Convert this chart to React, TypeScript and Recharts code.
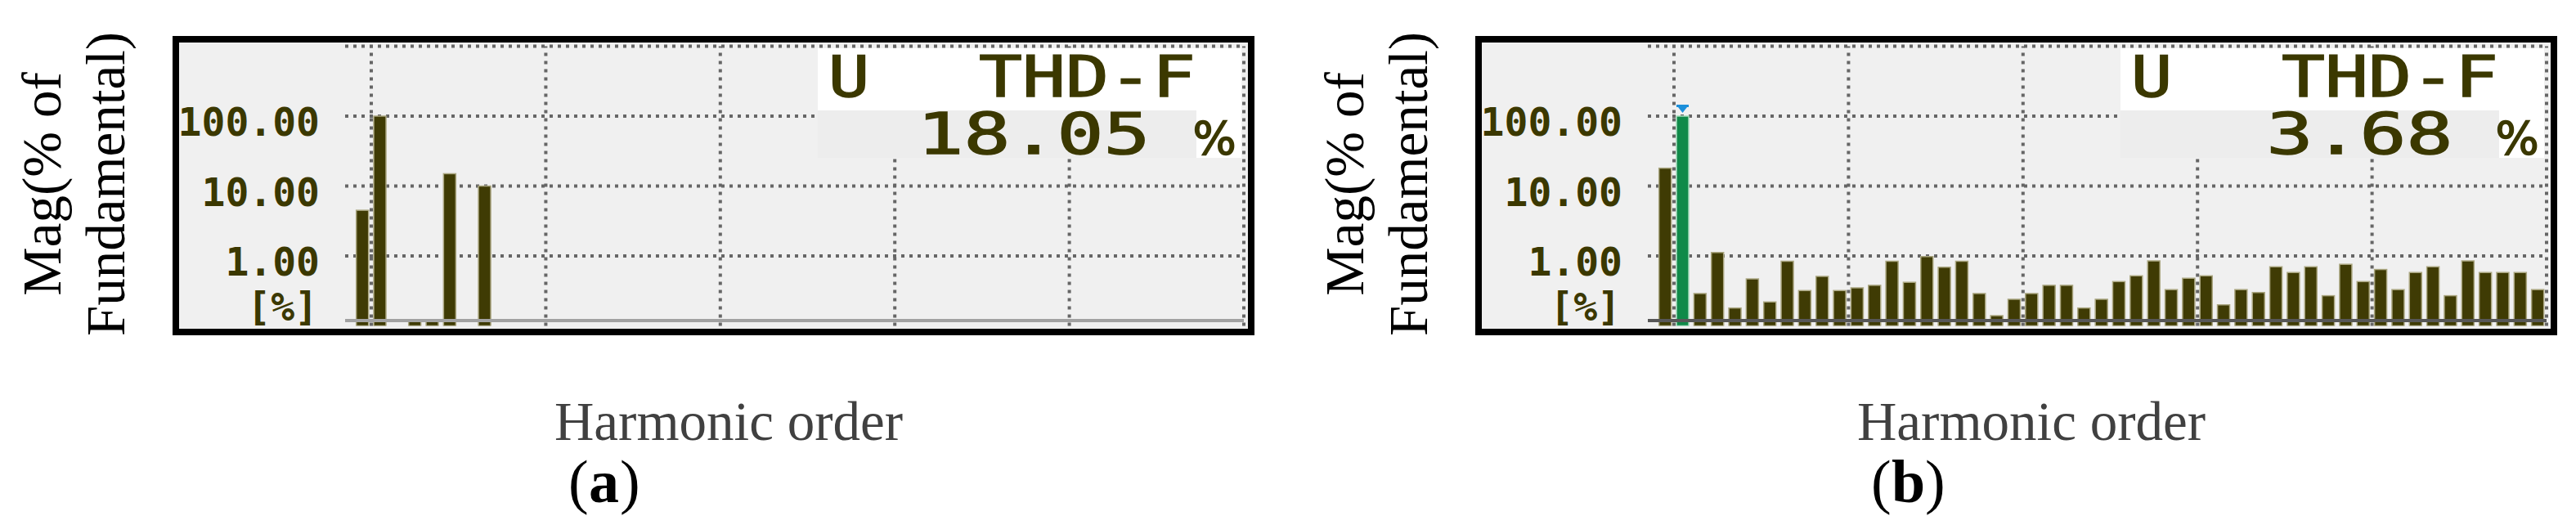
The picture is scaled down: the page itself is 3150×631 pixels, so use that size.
import { BarChart, Bar, XAxis, YAxis, CartesianGrid, ReferenceLine } from "recharts"

// harmonic spectra (% of fundamental, log axis)
const harmonicOrdersA = [0, 1, 3, 4, 5, 7]
const magnitudesA = [4.5, 100, 0.12, 0.12, 15, 10]

const harmonicOrdersB = [
  0, 1, 2, 3, 4, 5, 6, 7, 8, 9, 10, 11, 12, 13, 14, 15, 16, 17, 18, 19, 20, 21, 22, 23, 24, 25,
  26, 27, 28, 29, 30, 31, 32, 33, 34, 35, 36, 37, 38, 39, 40, 41, 42, 43, 44, 45, 46, 47, 48, 49, 50,
]
const magnitudesB = [
  18, 100, 0.29, 1.12, 0.18, 0.47, 0.22, 0.84, 0.32, 0.51, 0.32, 0.35, 0.38, 0.84, 0.42, 0.98, 0.69,
  0.84, 0.29, 0.14, 0.24, 0.29, 0.38, 0.38, 0.18, 0.24, 0.43, 0.52, 0.85, 0.33, 0.48, 0.52, 0.2, 0.33,
  0.3, 0.7, 0.58, 0.7, 0.27, 0.76, 0.43, 0.64, 0.33, 0.58, 0.7, 0.27, 0.85, 0.58, 0.58, 0.58, 0.33,
]
const selectedOrderB = 1

const thdA = "18.05"
const thdB = "3.68"

const yTicks = [1, 10, 100, 1000]
const yTickLabels = ["1.00", "10.00", "100.00", ""]
const gridOrders = [0.5, 10.5, 20.5, 30.5, 40.5, 50.5]

const OLIVE = "#3b3800"
const GRID = "#666666"
const BOX_W = 1323
const CHART_H = 410

const MagTick = ({ y, payload }: any) => {
  const label = yTickLabels[yTicks.indexOf(payload.value)]
  if (!label) return null
  return (
    <text x={180} y={y + 24} textAnchor="end" fontFamily="DejaVu Sans Mono" fontWeight="bold" fontSize={48} fill={OLIVE}>
      {label}
    </text>
  )
}

const BarShape = (p: any) => {
  const { x, y, width, height, payload } = p
  if (!height || height <= 0) return null
  const hot = payload.hot
  return (
    <g>
      <rect
        x={x}
        y={y}
        width={width}
        height={height}
        fill={hot ? "#0f8a49" : "#3f3b04"}
        stroke={hot ? "#a4dbbb" : "#aaa680"}
        strokeWidth={1.5}
      />
      {hot && (
        <g fill="#1c8fda">
          <rect x={x} y={y - 14} width={width} height={3} />
          <polygon points={`${x + 2},${y - 11} ${x + width - 2},${y - 11} ${x + width / 2},${y - 4}`} />
        </g>
      )}
    </g>
  )
}

interface PanelProps {
  left: number
  orders: number[]
  mags: number[]
  selected?: number
  baseline: string
}

function Panel({ left, orders, mags, selected, baseline }: PanelProps) {
  const data = orders.map((h, i) => ({ h, v: mags[i], hot: h === selected }))
  return (
    <>
      <div
        style={{
          position: "absolute",
          left,
          top: 44,
          width: BOX_W,
          height: 366,
          border: "8px solid #000",
          boxSizing: "border-box",
          background: "#f0f0f0",
        }}
      />
      <div style={{ position: "absolute", left, top: 0 }}>
        <BarChart width={BOX_W} height={CHART_H} data={data} margin={{ top: 56.5, right: 13, bottom: 11.5, left: 0 }}>
          <CartesianGrid
            vertical={false}
            stroke={GRID}
            strokeWidth={4}
            strokeDasharray="4 6"
            fill="none"
            horizontalValues={yTicks}
          />
          <XAxis
            type="number"
            dataKey="h"
            domain={[-1, 50.5]}
            ticks={gridOrders}
            allowDataOverflow
            tick={false}
            tickLine={false}
            height={0}
            axisLine={{ stroke: "#9a9468", strokeDasharray: "6 4", strokeWidth: 2 }}
          />
          <YAxis
            scale="log"
            domain={[0.1, 1000]}
            allowDataOverflow
            ticks={yTicks}
            width={211}
            tickLine={false}
            axisLine={false}
            tick={<MagTick />}
          />
          {gridOrders.map((g) => (
            <ReferenceLine key={g} x={g} stroke={GRID} strokeWidth={4} strokeDasharray="4 6" />
          ))}
          <Bar dataKey="v" barSize={15} shape={<BarShape />} isAnimationActive={false} />
          <ReferenceLine y={0.119} stroke={baseline} strokeWidth={4} />
        </BarChart>
      </div>
    </>
  )
}

function Overlay({ left, thd, letter }: { left: number; thd: string; letter: string }) {
  const valueStart = 1195.5 - 57 * thd.length
  return (
    <g transform={`translate(${left},0)`}>
      {/* THD-F readout box */}
      <rect x={789} y={59} width={518} height={76} fill="#fff" />
      <rect x={789} y={135} width={463} height={58} fill="#ededed" />
      <rect x={1252} y={135} width={55} height={58} fill="#fff" />
      <g fontFamily="DejaVu Sans Mono" fontSize={70} fill={OLIVE} stroke={OLIVE} strokeWidth={1.5}>
        <text transform="translate(827,118) scale(1.2,1)" textAnchor="middle">
          U
        </text>
        <text x={986} y={118} textLength={265} lengthAdjust="spacingAndGlyphs">
          THD-F
        </text>
        <text x={valueStart} y={188} textLength={57 * thd.length} lengthAdjust="spacingAndGlyphs">
          {thd}
        </text>
        <text x={1274} y={188} fontSize={56} textAnchor="middle" fontFamily="DejaVu Sans">
          %
        </text>
      </g>
      <text x={178} y={392} textAnchor="end" fontFamily="DejaVu Sans Mono" fontWeight="bold" fontSize={48} fill={OLIVE}>
        [%]
      </text>
      {/* axis titles */}
      <g fontFamily="Liberation Serif" fontSize={67}>
        <text transform="translate(-137,225) rotate(-90)" fill="#000" textAnchor="middle">
          Mag(% of
        </text>
        <text transform="translate(-59,225) rotate(-90)" fill="#000" textAnchor="middle">
          Fundamental)
        </text>
        <text x={680} y={538} fill="#404040" textAnchor="middle">
          Harmonic order
        </text>
      </g>
      <g fontFamily="Liberation Serif" fontSize={74} fill="#000">
        <text x={484} y={614}>(</text>
        <text x={509} y={614} fontWeight="bold">
          {letter}
        </text>
        <text x={[547, 550][letter === "b" ? 1 : 0]} y={614}>
          )
        </text>
      </g>
    </g>
  )
}

export default function App() {
  return (
    <div style={{ position: "absolute", left: 0, top: 0, width: 3150, height: 631, background: "#fff", overflow: "hidden" }}>
      <Panel left={211} orders={harmonicOrdersA} mags={magnitudesA} baseline="#a2a2a2" />
      <Panel left={1804} orders={harmonicOrdersB} mags={magnitudesB} selected={selectedOrderB} baseline="#575757" />
      <svg width={3150} height={631} style={{ position: "absolute", left: 0, top: 0, pointerEvents: "none" }}>
        <Overlay left={211} thd={thdA} letter="a" />
        <Overlay left={1804} thd={thdB} letter="b" />
      </svg>
    </div>
  )
}
